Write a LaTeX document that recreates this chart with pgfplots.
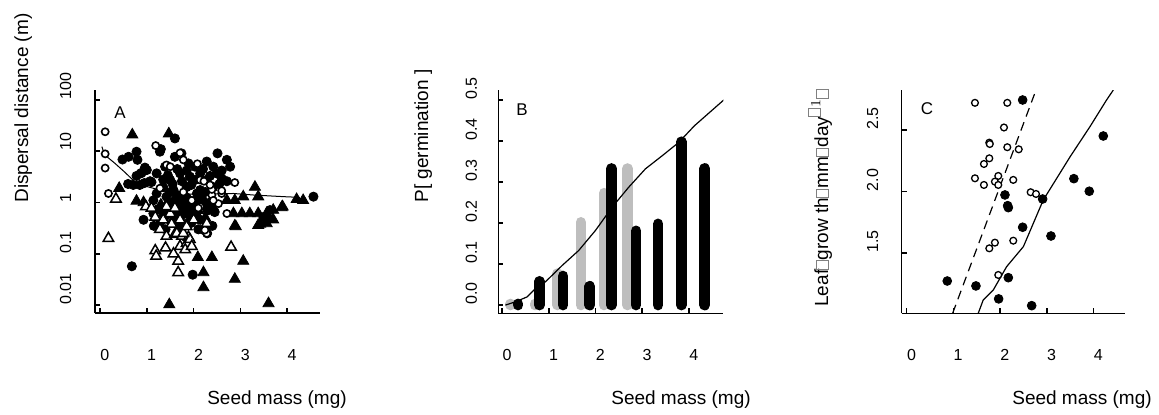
\documentclass[border=0pt]{standalone}
\usepackage{pgfplots}
\pgfplotsset{compat=1.18}
\usepackage{fontspec}
\setmainfont{Liberation Sans}
\definecolor{bargray}{RGB}{190,190,190}
% missing-glyph boxes as they appear in the original label
\newcommand{\tofu}{{\color{gray}\setlength{\fboxsep}{0pt}\setlength{\fboxrule}{0.35pt}\fbox{\rule{0pt}{0.62em}\rule{0.42em}{0pt}}}}

\pgfplotsset{
  rplot/.style={
    scale only axis, anchor=south west,
    axis x line=bottom, axis y line=left,
    axis line style={-, line width=0.8pt},
    tick style={line width=0.8pt, black},
    tick align=inside, major tick length=2.5pt,
    every tick label/.append style={font=\fontsize{8}{9}\selectfont, inner sep=0pt},
    /pgf/number format/assume math mode=true,
    xtick={0,1,2,3,4},
    xticklabel style={anchor=base west, yshift=-23.5pt},
  },
}

\begin{document}
\begin{tikzpicture}
\path[use as bounding box] (0,0) rectangle (579.5pt,207pt);

% ---------- A: dispersal distance
\begin{axis}[rplot, at={(47.5pt,50.5pt)}, width=112.5pt, height=111.5pt,
  xmin=-0.107, xmax=4.7,
  ymode=log, ymin=0.00698, ymax=156.7,
  ytick={0.01,0.1,1,10,100}, yticklabels={0.01,0.1,1,10,100},
  yminorticks=false,
  yticklabel style={rotate=90, anchor=base west, yshift=12pt}]
\addplot[only marks, mark=*, mark size=2.3pt, black] table {
0.68 0.057
1.98 0.039
2.22 0.29
2.29 0.25
2.51 9.1
2.71 6.8
2.78 5.0
1.28 9.8
0.48 6.9
0.61 7.8
0.78 9.8
0.80 6.8
0.87 3.7
1.00 4.3
0.71 2.2
0.85 2.2
1.07 2.6
0.60 2.3
0.95 2.4
1.10 2.5
0.78 3.3
0.89 3.8
0.96 4.8
0.93 0.46
1.14 0.61
1.28 0.39
1.60 17.8
1.60 7.8
1.74 9.1
1.89 5.8
2.03 5.0
2.28 6.3
2.42 5.0
2.49 3.7
2.60 2.95
2.71 2.6
4.56 1.3
3.63 0.71
3.49 0.52
1.14 1.1
1.35 2.0
1.50 2.75
1.71 3.7
1.92 3.2
2.14 3.7
2.28 2.75
1.85 2.0
2.07 1.5
2.21 0.95
2.00 0.61
1.42 1.3
1.85 0.83
1.21 1.5
1.57 1.75
1.21 3.7
1.39 5.0
2.14 1.75
2.42 2.0
2.07 0.52
1.71 0.34
2.14 0.46
1.30 11.0
1.30 0.7
1.45 0.9
1.55 1.0
1.65 1.4
1.75 1.1
1.85 1.25
1.95 0.75
2.05 1.0
2.15 1.1
2.25 1.6
2.35 1.0
1.50 1.6
1.40 0.55
1.60 0.55
1.80 0.6
1.95 0.4
2.30 0.7
2.45 0.65
1.35 2.8
1.55 2.3
1.75 2.6
1.95 2.2
2.05 2.8
2.35 3.3
1.65 4.5
1.85 4.2
2.20 4.5
1.45 3.4
2.60 4.2
2.55 2.3
1.25 0.75
1.15 0.35
1.40 0.3
2.10 0.3
2.40 0.35
};
\addplot[only marks, mark=triangle*, mark size=3.2pt, black] table {
0.69 21
1.47 22
0.41 1.9
0.78 1.07
0.93 1.0
3.31 2.0
3.38 1.3
3.06 1.3
2.88 1.1
2.71 1.1
2.42 0.78
4.20 1.15
4.34 1.1
3.90 0.83
3.70 0.71
3.56 0.61
3.38 0.61
3.20 0.61
3.03 0.61
2.85 0.61
3.70 0.46
3.56 0.39
3.38 0.36
2.90 0.34
2.88 0.35
3.42 0.38
3.88 0.8
3.63 0.47
2.35 0.69
2.09 0.085
2.39 0.085
2.21 0.043
2.21 0.022
3.06 0.072
2.88 0.032
1.48 0.0102
3.60 0.0107
1.30 0.9
1.50 0.7
1.70 0.5
1.90 0.45
2.00 0.9
1.60 1.2
1.80 1.5
2.20 1.2
1.35 0.6
1.55 0.45
1.75 0.7
1.95 0.6
2.10 0.7
1.45 1.0
1.65 0.9
1.85 1.0
2.25 0.5
};
\addplot[only marks, mark=*, mark size=1.8pt, mark options={draw=black, fill=white, line width=0.8pt}] table {
0.11 24
0.11 4.7
0.11 8.9
0.18 1.5
1.19 12.9
1.71 9.3
1.78 6.8
1.42 5.4
2.71 0.61
2.53 0.95
2.60 1.5
2.39 1.4
2.39 1.8
2.60 1.7
2.42 1.1
2.14 0.83
2.10 0.78
2.28 0.25
2.24 0.29
2.08 5.7
2.14 2.75
2.22 2.6
1.28 1.9
1.50 5.0
2.35 2.2
1.96 1.1
1.78 1.6
2.88 2.45
};
\addplot[only marks, mark=triangle*, mark size=3.0pt, mark options={draw=black, fill=white, line width=0.75pt}] table {
0.18 0.2
0.34 1.17
0.98 0.83
1.18 0.115
1.20 0.09
1.40 0.13
1.67 0.072
1.67 0.043
2.80 0.135
2.28 0.39
1.18 0.52
1.28 0.30
1.42 0.22
1.60 0.24
1.75 0.22
1.89 0.21
1.53 0.38
1.71 0.14
1.85 0.16
1.92 0.19
1.64 0.25
1.78 0.25
1.35 0.46
1.50 0.61
1.71 0.46
1.85 0.34
2.00 0.46
1.57 0.10
1.82 0.12
1.42 0.83
1.60 0.78
1.10 0.78
1.96 0.14
};
\addplot[black, line width=0.5pt] table {
0.04 12.3
0.10 8.5
0.32 5.8
0.53 3.9
0.75 2.5
1.00 2.05
1.42 1.62
1.85 1.46
2.28 1.45
2.85 1.5
3.28 1.4
3.92 1.3
4.27 1.26
};
\end{axis}

% ---------- B: germination
\begin{axis}[rplot, at={(249.2pt,50.35pt)}, width=112.5pt, height=111.65pt,
  xmin=-0.08, xmax=4.74, ymin=-0.020, ymax=0.524,
  ytick={0,0.1,0.2,0.3,0.4,0.5}, yticklabels={0.0,0.1,0.2,0.3,0.4,0.5},
  yticklabel style={rotate=90, anchor=base west, yshift=10.8pt}]
\addplot[ycomb, bargray, line width=5.2pt, line cap=round] table {
0.178 0.003
0.70 0.003
1.185 0.077
1.684 0.202
2.185 0.273
2.685 0.333
};
\addplot[ycomb, black, line width=5.3pt, line cap=round] table {
0.343 0.003
0.80 0.058
1.307 0.071
1.877 0.046
2.342 0.333
2.871 0.181
3.343 0.198
3.84 0.398
4.34 0.333
};
\addplot[black, line width=0.6pt] table {
0.07 0.0
0.285 0.008
0.535 0.02
0.71 0.04
0.93 0.057
1.29 0.097
1.64 0.133
2.00 0.182
2.36 0.239
2.71 0.287
3.07 0.332
3.43 0.364
3.78 0.396
4.12 0.437
4.45 0.47
4.75 0.5
};
\end{axis}

% ---------- C: leaf growth
\begin{axis}[rplot, at={(450.8pt,50.35pt)}, width=111.7pt, height=111.65pt,
  xmin=-0.107, xmax=4.675, ymin=1.013, ymax=2.824,
  ytick={1.5,2.0,2.5}, yticklabels={1.5,2.0,2.5},
  yticklabel style={rotate=90, anchor=base west, yshift=11.7pt}]
\addplot[only marks, mark=*, mark size=1.7pt, mark options={draw=black, fill=white, line width=0.65pt}] table {
1.463 2.72
2.155 2.72
2.084 2.52
1.77 2.397
1.78 2.386
2.155 2.36
2.40 2.343
1.77 2.27
1.655 2.224
1.463 2.108
1.655 2.054
1.962 2.127
1.89 2.081
1.962 2.054
2.283 2.095
2.655 1.995
2.77 1.981
1.89 1.586
1.77 1.54
2.283 1.602
1.962 1.324
};
\addplot[only marks, mark=*, mark size=2.2pt, black] table {
2.484 2.743
4.21 2.451
3.58 2.105
3.91 2.003
2.105 1.973
2.912 1.94
2.163 1.886
2.177 1.87
2.484 1.711
3.09 1.64
0.87 1.275
1.484 1.235
2.177 1.302
1.97 1.13
2.677 1.075
};
\addplot[black, line width=0.6pt, dash pattern=on 4.5pt off 3pt] table {
0.985 1.013
2.77 2.824
};
\addplot[black, line width=0.6pt] table {
1.52 1.0
1.64 1.121
1.855 1.202
2.14 1.391
2.50 1.554
2.925 1.932
3.50 2.283
3.925 2.527
4.28 2.743
4.425 2.824
};
\end{axis}

% ---------- labels, placed in pixel units of the reference
\begin{scope}[x=0.5pt, y=-0.5pt, shift={(0pt,207pt)}]
\node[font=\fontsize{8.5}{10}\selectfont] at (120,113) {A};
\node[font=\fontsize{8.5}{10}\selectfont] at (522,110) {B};
\node[font=\fontsize{8.5}{10}\selectfont] at (927,109) {C};
\node[font=\fontsize{9.5}{11}\selectfont, anchor=base] at (277,404) {Seed mass (mg)};
\node[font=\fontsize{9.5}{11}\selectfont, anchor=base] at (681,404) {Seed mass (mg)};
\node[font=\fontsize{9.5}{11}\selectfont, anchor=base] at (1082,404) {Seed mass (mg)};
\node[font=\fontsize{9.5}{11}\selectfont, rotate=90, anchor=base west, inner sep=0pt] at (28,203) {Dispersal distance (m)};
\node[font=\fontsize{9.5}{11}\selectfont, rotate=90, anchor=base west, inner sep=0pt] at (428,203) {P[ germination ]};
\node[font=\fontsize{9.5}{11}\selectfont, rotate=90, anchor=base west, inner sep=0pt] at (828,307) {Leaf\tofu grow th\tofu mm\tofu day$^{\tofu 1}$\tofu};
\end{scope}
\end{tikzpicture}
\end{document}
